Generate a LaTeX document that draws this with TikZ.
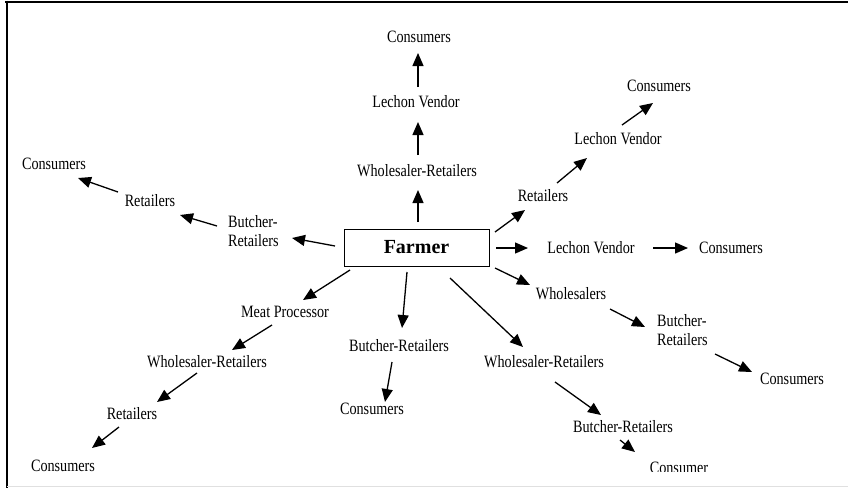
\documentclass[tikz,border=0pt]{standalone}
\usepackage{fontspec}
\usepackage{graphicx}
\setmainfont{Liberation Serif}
\usetikzlibrary{arrows.meta}

% labels are set a little taller than wide
\newcommand\tall[1]{\scalebox{1}[1.22]{#1}}

\tikzset{
  lbl/.style={font=\fontsize{14.2}{19}\selectfont, inner sep=0pt},
  arr/.style={-{Triangle[length=13pt,width=11pt]}, line width=1.3pt},
  farmbox/.style={draw, line width=1pt, minimum width=145pt, minimum height=37pt,
                  inner sep=0pt, font=\fontsize{20}{24}\selectfont\bfseries},
}

\begin{document}
\begin{tikzpicture}[x=1pt,y=-1pt]
\useasboundingbox (0,0) rectangle (848,488);
\fill[white] (0,0) rectangle (848,488);

% frame
\draw[line width=2pt] (5,1.5) -- (848,1.5);
\draw[line width=2pt] (6.5,0.5) -- (6.5,488);
\draw[black!12, line width=1pt] (6.5,486.5) -- (848,486.5);

% central producer
\node[farmbox] (farmer) at (416.5,247.5) {Farmer};

% upward chain
\node[lbl] (wr1) at (417,171) {\tall{Wholesaler-Retailers}};
\node[lbl] (lv1) at (416,102) {\tall{Lechon Vendor}};
\node[lbl] (c1)  at (419,37)  {\tall{Consumers}};

% left chain
\node[lbl, anchor=west, align=left] (brL) at (228,231.5) {\tall{Butcher-}\\\tall{Retailers}};
\node[lbl] (rL) at (150,201) {\tall{Retailers}};
\node[lbl] (cL) at (54,164)  {\tall{Consumers}};

% upper right chain
\node[lbl] (rR)  at (543,196) {\tall{Retailers}};
\node[lbl] (lvR) at (618,139) {\tall{Lechon Vendor}};
\node[lbl] (cR)  at (659,86)  {\tall{Consumers}};

% horizontal chain
\node[lbl] (lvH) at (591,248) {\tall{Lechon Vendor}};
\node[lbl] (cH)  at (731,248) {\tall{Consumers}};

% lower right chain
\node[lbl] (wsR) at (571,294) {\tall{Wholesalers}};
\node[lbl, anchor=west, align=left] (brR) at (657,330) {\tall{Butcher-}\\\tall{Retailers}};
\node[lbl] (cRL) at (792,379) {\tall{Consumers}};

% diagonal chain
\node[lbl] (wr2) at (544,362) {\tall{Wholesaler-Retailers}};
\node[lbl] (br2) at (623,427) {\tall{Butcher-Retailers}};
\begin{scope}
  \clip (600,450) rectangle (760,471.5);
  \node[lbl] (cons) at (679,468) {\tall{Consumer}};
\end{scope}

% lower left chain
\node[lbl] (mp)  at (285,312) {\tall{Meat Processor}};
\node[lbl] (wr3) at (207,362) {\tall{Wholesaler-Retailers}};
\node[lbl] (r3)  at (132,414) {\tall{Retailers}};
\node[lbl] (c3)  at (63,466)  {\tall{Consumers}};

% lower middle chain
\node[lbl] (br3) at (399,346) {\tall{Butcher-Retailers}};
\node[lbl] (c4)  at (372,409) {\tall{Consumers}};

% connectors
\draw[arr] ([shift={(1.5,-25.5)}]farmer.center) -- ([shift={(1,19)}]wr1.center);
\draw[arr] ([shift={(1,-16)}]wr1.center) -- ([shift={(2,20)}]lv1.center);
\draw[arr] ([shift={(2,-15)}]lv1.center) -- ([shift={(-1,16)}]c1.center);

\draw[arr] ([shift={(-81.5,-1.5)}]farmer.center) -- ([shift={(64,6.5)}]brL.west);
\draw[arr] ([shift={(-11,-5.5)}]brL.west) -- ([shift={(30,14)}]rL.center);
\draw[arr] ([shift={(-32,-9)}]rL.center) -- ([shift={(24,14)}]cL.center);

\draw[arr] ([shift={(78.5,-15.5)}]farmer.center) -- ([shift={(-18,14)}]rR.center);
\draw[arr] ([shift={(14,-13)}]rR.center) -- ([shift={(-31,19)}]lvR.center);
\draw[arr] ([shift={(4,-14)}]lvR.center) -- ([shift={(-6,17)}]cR.center);

\draw[arr] ([shift={(79.5,0.5)}]farmer.center) -- ([shift={(-63,0)}]lvH.center);
\draw[arr] ([shift={(62,0)}]lvH.center) -- ([shift={(-43,0)}]cH.center);

\draw[arr] ([shift={(78.5,20.5)}]farmer.center) -- ([shift={(-41,-9)}]wsR.center);
\draw[arr] ([shift={(39,15)}]wsR.center) -- ([shift={(-12,-3)}]brR.west);
\draw[arr] ([shift={(58,24)}]brR.west) -- ([shift={(-40,-7)}]cRL.center);

\draw[arr] ([shift={(33.5,30.5)}]farmer.center) -- ([shift={(-21,-15)}]wr2.center);
\draw[arr] ([shift={(11,20)}]wr2.center) -- ([shift={(-22,-12)}]br2.center);
\draw[arr] ([shift={(-3,13)}]br2.center) -- ([shift={(-44,-16)}]cons.center);

\draw[arr] ([shift={(-66.5,22.5)}]farmer.center) -- ([shift={(18,-12)}]mp.center);
\draw[arr] ([shift={(-13,13)}]mp.center) -- ([shift={(25,-12)}]wr3.center);
\draw[arr] ([shift={(-10,11)}]wr3.center) -- ([shift={(25,-12)}]r3.center);
\draw[arr] ([shift={(-13,13)}]r3.center) -- ([shift={(29,-18)}]c3.center);

\draw[arr] ([shift={(-9.5,24.5)}]farmer.center) -- ([shift={(3,-18)}]br3.center);
\draw[arr] ([shift={(-7,16)}]br3.center) -- ([shift={(13,-7)}]c4.center);
\end{tikzpicture}
\end{document}
